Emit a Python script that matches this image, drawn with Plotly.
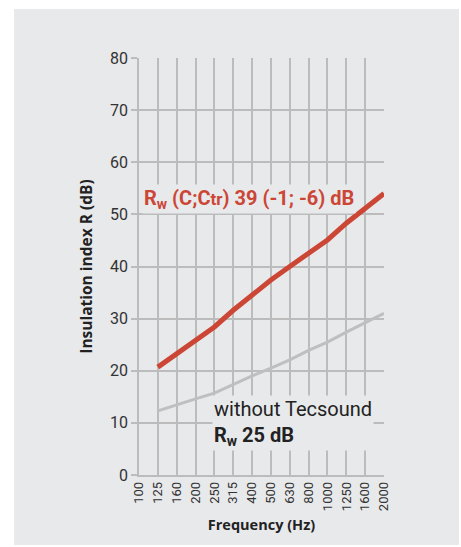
"""Sound insulation index vs frequency, with and without Tecsound."""
import plotly.graph_objects as go

FREQ_LABELS = ["100", "125", "160", "200", "250", "315", "400", "500",
               "630", "800", "1000", "1250", "1600", "2000"]
# Bands where each curve has data (125 Hz .. 2000 Hz)
DATA_FREQS = FREQ_LABELS[1:]
WITH_TECSOUND = [20.7, 23.2, 25.8, 28.4, 31.6, 34.6, 37.4, 40.0, 42.6, 45.1, 48.3, 51.2, 54.0]
WITHOUT_TECSOUND = [12.3, 13.5, 14.6, 15.7, 17.4, 19.0, 20.5, 22.1, 23.9, 25.5, 27.4, 29.2, 31.0]

PANEL = "#e8e9eb"
GRID = "#bcbcbc"
RED = "#cc4636"
GRAY = "#bfbfbf"
FONT = "Roboto"
TITLE_FONT = "Open Sans"

fig = go.Figure()
fig.add_scatter(x=DATA_FREQS, y=WITHOUT_TECSOUND, mode="lines",
                line=dict(color=GRAY, width=3), hoverinfo="skip")
fig.add_scatter(x=DATA_FREQS, y=WITH_TECSOUND, mode="lines",
                line=dict(color=RED, width=5), hoverinfo="skip")

# page-style grey panel behind the whole chart
fig.add_shape(type="rect", xref="paper", yref="paper",
              x0=-0.510, x1=1.306, y0=-0.168, y1=1.1175,
              fillcolor=PANEL, line_width=0, layer="below")

fig.add_annotation(
    xref="paper", yref="paper", x=0.012, y=0.662, xanchor="left", yanchor="middle",
    text="<b>R<sub>w</sub> (C;C<span style='font-size:17px'>tr</span>) 39 (-1; -6) dB</b>",
    showarrow=False, font=dict(family=FONT, size=20, color=RED),
    bgcolor=PANEL, borderpad=1,
)
fig.add_annotation(
    xref="paper", yref="paper", x=0.298, y=0.125, xanchor="left", yanchor="middle",
    text="without Tecsound<br><b>R<sub>w</sub> 25 dB</b>", align="left",
    showarrow=False, font=dict(family=FONT, size=20, color="#222222"),
    bgcolor=PANEL, borderpad=1,
)

fig.update_layout(
    width=461, height=547,
    margin=dict(l=139, r=77, t=58, b=72),
    paper_bgcolor="white",
    plot_bgcolor=PANEL,
    showlegend=False,
    font=dict(family=FONT, color="#333333"),
    xaxis=dict(
        type="category", categoryarray=FREQ_LABELS, categoryorder="array",
        range=[0, 13], tickangle=-90, tickfont=dict(size=13, color="#333333"),
        ticks="", automargin=False,
        showgrid=True, gridcolor=GRID, gridwidth=1.5,
        showline=True, linecolor=GRID, linewidth=1.5, mirror=False,
        title=dict(text="<b>Frequency (Hz)</b>",
                   font=dict(family=TITLE_FONT, size=14.5, color="#222222"), standoff=10),
    ),
    yaxis=dict(
        range=[0, 80], dtick=10, tickfont=dict(size=16, color="#333333"),
        automargin=False,
        showgrid=True, gridcolor=GRID, gridwidth=1.5,
        showline=True, linecolor=GRID, linewidth=1.5,
        ticks="outside", ticklen=6, tickcolor=GRID, tickwidth=1.5,
        zeroline=False,
        title=dict(text="<b>Insulation index R (dB)</b>",
                   font=dict(family=TITLE_FONT, size=15.5, color="#222222"), standoff=14),
    ),
)

# drop the browser's default 8px body margin so the figure sits at the page origin
fig.write_html("out.html", config={"displayModeBar": False},
               post_script="document.body.style.margin='0';")
